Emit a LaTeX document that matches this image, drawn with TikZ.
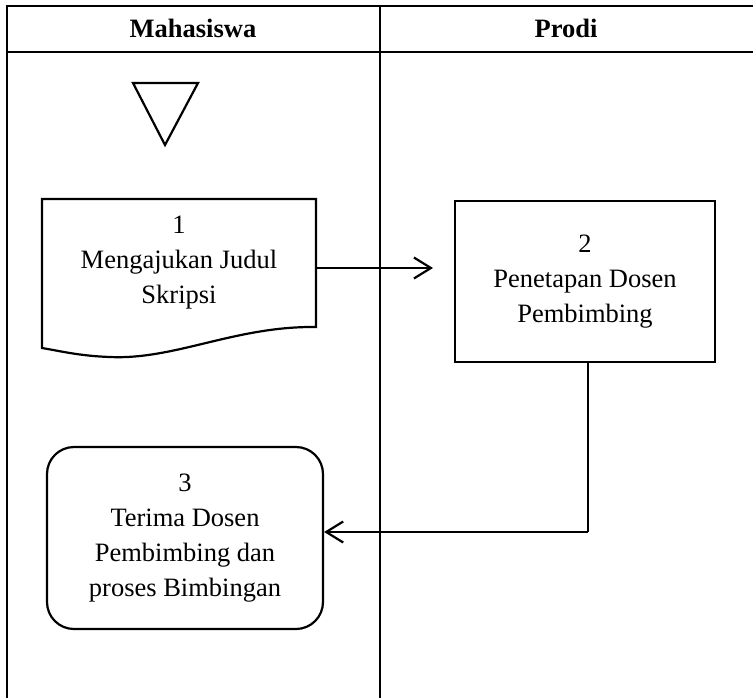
\documentclass[tikz,border=0pt]{standalone}
\usepackage{fontspec}
\setmainfont{Liberation Serif}
\usetikzlibrary{arrows.meta}
\tikzset{
  tableline/.style={line width=2.4pt, line cap=rect},
  shapeline/.style={line width=2.2pt, line join=miter},
  flowarrow/.style={line width=2.2pt, -{Straight Barb[length=17pt,width=21pt,line width=2.2pt]}},
  proc/.style={draw, shapeline, align=center, minimum width=260pt, minimum height=161pt, inner sep=0pt},
  roundproc/.style={draw, shapeline, align=center, minimum width=276pt, minimum height=182pt, rounded corners=27pt, inner sep=0pt},
  txt/.style={align=center, inner sep=0pt},
  head/.style={font=\fontsize{26.5}{30}\selectfont\bfseries, inner sep=0pt}
}
\begin{document}
\begin{tikzpicture}[x=1pt,y=-1pt,font=\fontsize{26.5}{35}\selectfont]
\useasboundingbox (0,0) rectangle (753,697);
\clip (0,0) rectangle (753,697);
\fill[white] (0,0) rectangle (753,697);
% table
\coordinate (tl) at (7,6);
\coordinate (tr) at (760,6);
\coordinate (hl) at (7,52);
\coordinate (hr) at (760,52);
\coordinate (bl) at (7,705);
\coordinate (dt) at (380,6);
\coordinate (db) at (380,705);
\draw[tableline] (tr) -- (tl) -- (bl);
\draw[tableline] (hl) -- (hr);
\draw[tableline] (dt) -- (db);
\node[head] (h1) at (193,28) {Mahasiswa};
\node[head] (h2) at (566,28) {Prodi};
% start triangle
\coordinate (t1) at (133,83);
\coordinate (t2) at (198,83);
\coordinate (t3) at (165,145);
\draw[shapeline] (t1) -- (t2) -- (t3) -- cycle;
% document shape
\node[txt, minimum width=274pt, minimum height=128pt] (doc) at (179,263) {1\\Mengajukan Judul\\Skripsi};
\draw[shapeline, fill=none] (42,199) -- (316,199) -- (316,327)
   .. controls (235,326) and (175,360) .. (110,357)
   .. controls (80,356) and (60,351) .. (42,348) -- cycle;
% process 2
\node[proc] (p2) at (585,281.5) {2\\Penetapan Dosen\\Pembimbing};
% process 3
\node[roundproc] (p3) at (185,538) {3\\Terima Dosen\\Pembimbing dan\\proses Bimbingan};
% connectors
\coordinate (a1end) at (433,268);
\draw[flowarrow] (doc.east |- a1end) -- (a1end);
\coordinate (bend) at (588,532);
\draw[line width=2.2pt] (p2.south -| bend) -- (bend);
\draw[flowarrow] (bend) -- (p3.east |- bend);
\end{tikzpicture}
\end{document}
